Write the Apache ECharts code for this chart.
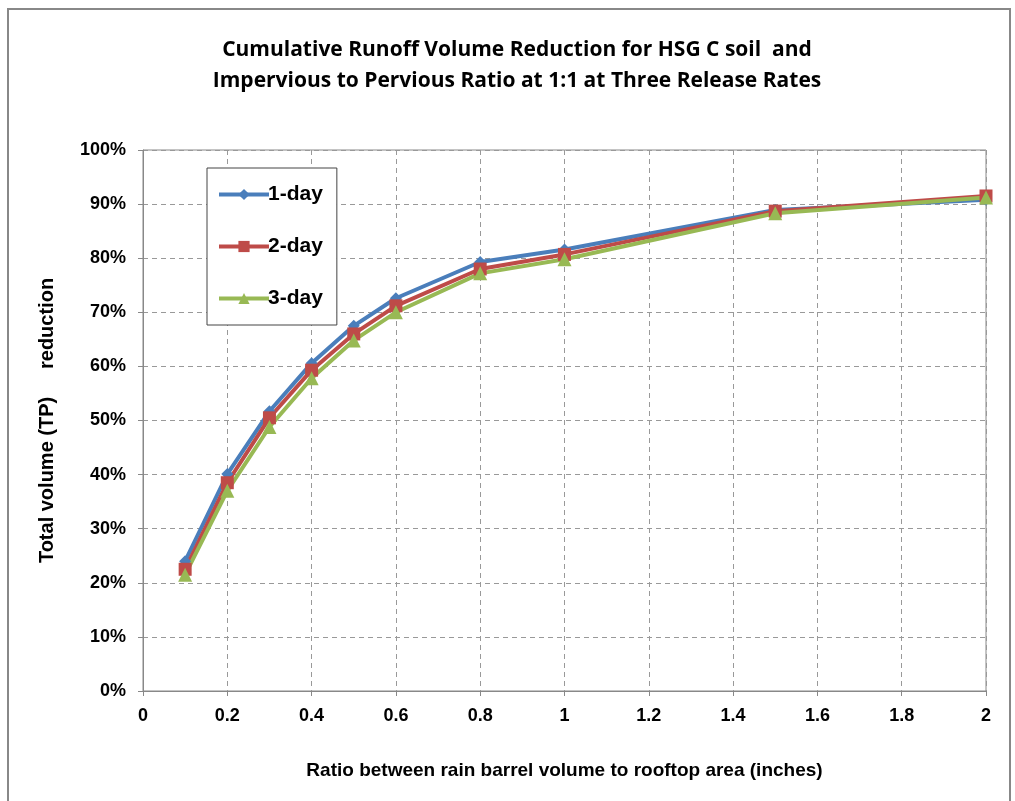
<!DOCTYPE html>
<html>
<head>
<meta charset="utf-8">
<script src="https://cdn.jsdelivr.net/npm/echarts@6/dist/echarts.min.js"></script>
<style>
    html, body { margin: 0; padding: 0; background: #fff; }
    #chart { width: 1015px; height: 801px; }
</style>
</head>
<body>
<div id="chart"></div>
<script>
// ratio of rain barrel volume to rooftop area (inches)
const ratios = [0.1, 0.2, 0.3, 0.4, 0.5, 0.6, 0.8, 1, 1.5, 2];
// reduction in %
const oneDay = [24.0, 40.1, 51.7, 60.6, 67.5, 72.6, 79.3, 81.6, 88.9, 90.8];
const twoDay = [22.5, 38.5, 50.5, 59.3, 66.0, 71.2, 78.0, 80.7, 88.7, 91.5];
const threeDay = [21.5, 37.0, 48.8, 57.8, 64.8, 70.0, 77.2, 79.8, 88.3, 91.2];

const chart = echarts.init(document.getElementById('chart'));

const pair = vals => ratios.map((x, i) => [x, vals[i]]);

const mkSeries = (name, vals, color, symbol, size) => ({
    name,
    type: 'line',
    data: pair(vals),
    symbol,
    symbolSize: size,
    color,
    lineStyle: { width: 4, color },
    itemStyle: { color },
    z: 3
});

chart.setOption({
    animation: false,
    backgroundColor: '#fff',
    title: {
        text: 'Cumulative Runoff Volume Reduction for HSG C soil  and\nImpervious to Pervious Ratio at 1:1 at Three Release Rates',
        left: 512,
        textAlign: 'center',
        top: 30,
        textStyle: {
            fontFamily: 'Open Sans',
            fontWeight: 'bold',
            fontSize: 21,
            lineHeight: 31,
            color: '#000'
        }
    },
    legend: {
        orient: 'vertical',
        left: 207,
        top: 168,
        itemGap: 31,
        itemWidth: 50,
        itemHeight: 14,
        padding: [16, 14, 16, 10],
        borderColor: '#444',
        borderWidth: 1,
        backgroundColor: '#fff',
        lineStyle: { width: 4 },
        textStyle: {
            fontFamily: 'Liberation Sans',
            fontWeight: 'bold',
            fontSize: 21,
            color: '#000',
            padding: [0, 0, 0, -6]
        },
        data: ['1-day', '2-day', '3-day']
    },
    grid: {
        left: 143,
        right: 29,
        top: 150,
        bottom: 110,
        show: true,
        borderColor: '#888',
        borderWidth: 1
    },
    xAxis: {
        type: 'value',
        min: 0,
        max: 2,
        interval: 0.2,
        name: 'Ratio between rain barrel volume to rooftop area (inches)',
        nameLocation: 'middle',
        nameGap: 70,
        nameTextStyle: {
            fontFamily: 'Liberation Sans',
            fontWeight: 'bold',
            fontSize: 19,
            color: '#000'
        },
        axisLine: { onZero: false, lineStyle: { color: '#888', width: 1 } },
        axisTick: { show: true, length: 5, lineStyle: { color: '#888' } },
        axisLabel: {
            fontFamily: 'Liberation Sans',
            fontWeight: 'bold',
            fontSize: 18,
            color: '#000',
            margin: 16
        },
        splitLine: { show: true, lineStyle: { type: [5, 4], color: '#999' } }
    },
    yAxis: {
        type: 'value',
        min: 0,
        max: 100,
        interval: 10,
        name: 'Total volume (TP)     reduction',
        nameLocation: 'middle',
        nameGap: 86,
        nameRotate: 90,
        nameTextStyle: {
            fontFamily: 'Liberation Sans',
            fontWeight: 'bold',
            fontSize: 20,
            color: '#000'
        },
        axisLine: { show: true, lineStyle: { color: '#888', width: 1 } },
        axisTick: { show: true, length: 5, lineStyle: { color: '#888' } },
        axisLabel: {
            fontFamily: 'Liberation Sans',
            fontWeight: 'bold',
            fontSize: 18,
            color: '#000',
            margin: 17,
            formatter: v => v + '%'
        },
        splitLine: { show: true, lineStyle: { type: [5, 4], color: '#999' } }
    },
    graphic: [
        {
            type: 'rect',
            shape: { x: 8, y: 9, width: 1002, height: 800 },
            style: { fill: null, stroke: '#888', lineWidth: 2 },
            silent: true
        }
    ],
    series: [
        mkSeries('1-day', oneDay, '#4a7ebb', 'diamond', 12),
        mkSeries('2-day', twoDay, '#be4b48', 'rect', 13),
        mkSeries('3-day', threeDay, '#98b954', 'triangle', 14)
    ]
});
</script>
</body>
</html>
